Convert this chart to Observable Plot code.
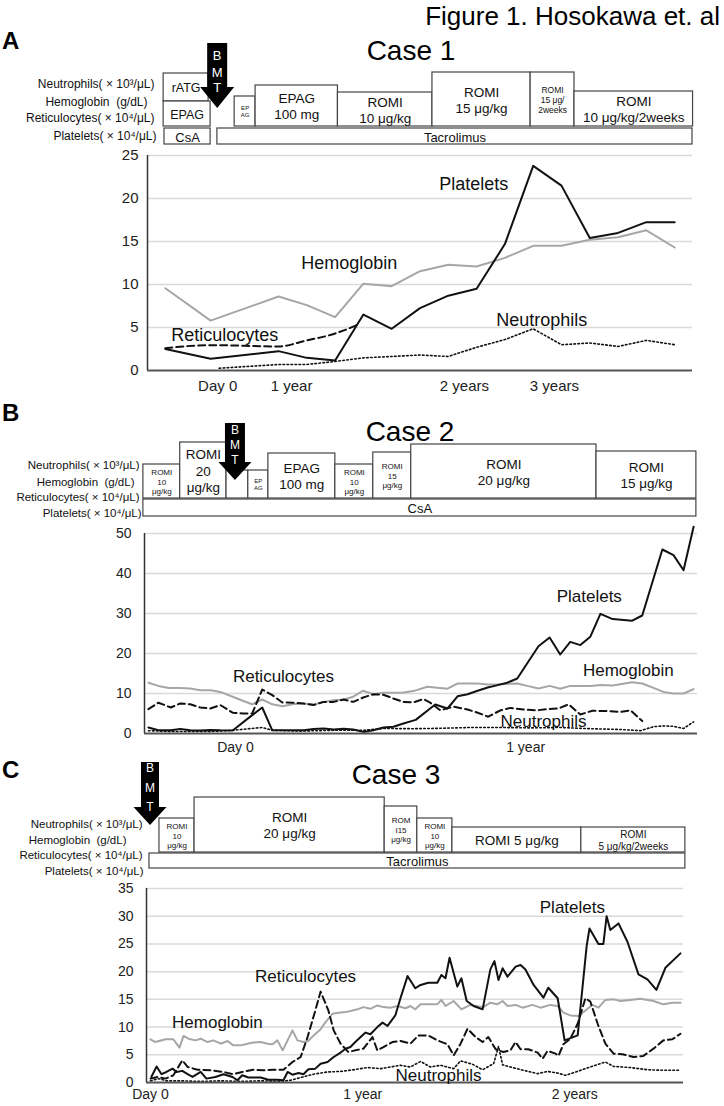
<!DOCTYPE html>
<html><head><meta charset="utf-8">
<script src="https://cdn.jsdelivr.net/npm/d3@7"></script>
<script src="https://cdn.jsdelivr.net/npm/@observablehq/plot@0.6"></script>
<style>
body{margin:0;background:#fff;font-family:"Liberation Sans",Arial,Helvetica,sans-serif;}
#fig{position:relative;width:724px;height:1106px;overflow:hidden;background:#fff;}
.t{position:absolute;white-space:nowrap;line-height:1;color:#000;}
</style></head><body><div id="fig"></div><script>
// ---------------- DATA ----------------
// Case 1 (x = visit index)
const c1Platelets = [[0,2.5],[1.6,1.36],[4,2.25],[5,1.47],[6,1.16],[7,6.5],[8,4.85],[9,7.25],[10,8.7],[11,9.5],[12,14.7],[13,23.8],[14,21.5],[15,15.4],[16,16.0],[17,17.25],[18,17.25]];
const c1Hemoglobin = [[0,9.57],[1.6,5.8],[4,8.6],[5,7.6],[6,6.2],[7,10.1],[8,9.8],[9,11.55],[10,12.3],[11,12.1],[12,13.1],[13,14.5],[14,14.5],[15,15.2],[16,15.5],[17,16.3],[18,14.3]];
const c1Reticulocytes = [[0,2.6],[1.6,2.95],[4,2.8],[5,3.5],[6,4.3],[6.85,5.4]];
const c1Neutrophils = [[1.9,0.27],[4,0.7],[5,0.7],[6,1.05],[7,1.47],[8,1.63],[9,1.8],[10,1.63],[11,2.7],[12,3.6],[13,4.85],[14,3.0],[15,3.2],[16,2.8],[17,3.5],[18,3.0]];
const c1TickAt = [1.85, 4.46, 10.57, 13.75];
const c1TickText = ["Day 0", "1 year", "2 years", "3 years"];
const c1YTicks = [0, 5, 10, 15, 20, 25];
const c1SeriesNames = ["Platelets", "Hemoglobin", "Neutrophils", "Reticulocytes"];
const c1SeriesLabelAt = [[10.9, 21.7], [6.5, 12.5], [13.3, 5.9], [2.1, 4.1]];
const c1Boxes = [[-0.06,1.53,45,73],[-0.06,1.6,20,45],[-0.03,1.6,2,18],[1.84,18.63,2,18],[2.45,3.19,20,50],[3.19,6.1,20,61],[6.1,9.44,20,54],[9.44,12.91,20,74],[12.91,14.46,20,74],[14.46,18.65,20,55]];
const c1BoxText = ["rATG","EPAG","CsA","Tacrolimus","EP\nAG","EPAG\n100 mg","ROMI\n10 μg/kg","ROMI\n15 μg/kg","ROMI\n15 μg/\n2weeks","ROMI\n10 μg/kg/2weeks"];
const c1Bmt = 1.85;

// Case 2 (x = weeks from BMT)
const c2Platelets = [[-15.6,1.5],[-13.8,0.8],[-11.6,0.8],[-9.9,1.1],[-8.1,0.8],[-6.3,0.75],[-4.5,0.9],[-2.7,0.8],[-0.5,0.75],[3.0,4.6],[4.8,6.5],[6.6,0.8],[8.4,0.8],[10.2,0.8],[12.2,0.8],[14.0,1.1],[15.8,1.25],[17.6,1.0],[19.4,1.2],[21.1,1.0],[22.9,0.4],[24.7,0.8],[26.5,1.5],[28.3,1.7],[30.1,2.5],[32.3,3.4],[35.8,7.25],[38.0,6.25],[39.8,9.3],[41.6,9.8],[43.4,10.7],[45.2,11.5],[47.0,12.1],[48.7,12.7],[50.5,13.75],[54.3,21.8],[56.3,24.0],[58.2,19.75],[60.0,22.9],[61.8,22.1],[63.6,24.2],[65.4,29.9],[67.6,28.6],[71.1,28.2],[72.9,29.5],[76.5,46.0],[78.5,44.6],[80.3,40.8],[82.1,51.7]];
const c2Hemoglobin = [[-15.6,12.7],[-13.8,11.9],[-12.0,11.4],[-9.9,11.4],[-8.1,11.25],[-6.3,10.8],[-4.5,10.8],[-2.7,10.4],[-0.5,9.2],[1.3,8.2],[3.0,7.3],[4.8,8.5],[6.6,7.3],[8.4,6.8],[10.2,7.3],[12.2,7.5],[14.0,7.25],[15.8,7.9],[17.6,8.3],[19.4,8.5],[21.1,9.2],[22.9,10.7],[24.7,9.8],[26.5,10.2],[28.3,10.2],[30.1,10.25],[31.9,10.6],[34.4,11.7],[38.0,11.2],[39.8,12.5],[43.4,12.5],[45.2,12.25],[47.0,12.3],[48.7,12.4],[50.5,12.5],[52.3,11.9],[54.3,11.25],[56.3,11.9],[58.2,11.2],[60.0,11.9],[63.6,11.9],[65.4,12.1],[67.6,12.0],[71.1,12.8],[72.9,12.5],[74.9,11.4],[76.7,10.4],[78.5,10.0],[80.3,10.0],[82.1,11.1]];
const c2Reticulocytes = [[-15.6,6.1],[-13.8,7.7],[-11.6,6.5],[-9.9,7.5],[-8.1,7.3],[-6.3,6.5],[-4.5,6.25],[-2.7,7.1],[-0.5,5.2],[1.3,5.0],[3.0,5.0],[4.8,11.0],[6.6,9.6],[8.4,7.75],[10.2,7.7],[12.2,7.5],[14.0,7.1],[15.8,7.9],[17.6,7.9],[19.4,8.5],[21.1,7.9],[22.9,9.0],[24.7,9.8],[26.5,9.7],[28.3,8.75],[30.1,7.9],[31.9,7.8],[33.7,8.6],[34.9,7.7],[36.7,5.8],[39.1,6.7],[41.6,6.0],[43.4,5.2],[45.3,4.2],[47.5,5.8],[49.3,6.4],[51.6,6.0],[54.1,5.8],[55.9,6.1],[57.9,6.25],[59.7,7.3],[61.8,4.75],[64.0,5.7],[66.7,5.6],[69.0,5.4],[70.8,5.8],[72.9,3.1]];
const c2Neutrophils = [[-15.6,0.7],[-11.6,0.5],[-8.1,0.5],[-4.5,0.5],[-0.5,0.8],[4.8,1.5],[6.6,0.8],[11.6,0.6],[17.6,0.8],[22.9,0.8],[26.5,1.25],[31.9,1.2],[36.7,1.3],[42.1,1.5],[47.5,1.5],[52.9,1.4],[58.2,1.5],[63.6,1.2],[69.0,1.0],[72.6,0.7],[74.9,1.7],[76.7,1.9],[78.5,1.8],[80.3,1.25],[82.1,2.9]];
const c2TickAt = [0, 52];
const c2TickText = ["Day 0", "1 year"];
const c2YTicks = [0, 10, 20, 30, 40, 50];
const c2SeriesNames = ["Platelets", "Hemoglobin", "Neutrophils", "Reticulocytes"];
const c2SeriesLabelAt = [[63.4, 34.2], [70.4, 15.8], [55.2, 3.1], [8.6, 14.3]];
const c2Boxes = [[-16.5,-9.9,20,54],[-9.9,-1.6,20,76],[-1.6,2.3,20,48],[2.3,5.9,20,48],[5.9,17.9,20,65],[17.9,24.7,20,54],[24.7,31.5,20,66],[31.5,64.7,20,74],[64.7,82.6,20,67],[-16.5,82.6,2,19]];
const c2BoxText = ["ROMI\n10\nμg/kg","ROMI\n20\nμg/kg","","EP\nAG","EPAG\n100 mg","ROMI\n10\nμg/kg","ROMI\n15\nμg/kg","ROMI\n20 μg/kg","ROMI\n15 μg/kg","CsA"];
const c2Bmt = 0;

// Case 3 (x = weeks from BMT)
const c3Platelets = [[0.2,1.0],[1.5,2.9],[2.7,1.5],[3.9,1.9],[5.4,2.5],[6.4,1.9],[7.8,2.1],[9.1,1.5],[10.3,1.0],[12.3,1.9],[13.7,0.7],[15.9,1.0],[17.9,1.5],[20.1,1.0],[21.3,0.4],[22.5,1.3],[24.0,0.9],[27.0,0.9],[28.9,0.5],[31.1,0.5],[32.6,0.4],[33.6,1.9],[34.8,1.4],[36.3,1.7],[37.5,1.5],[38.7,2.4],[40.4,2.5],[41.7,3.4],[43.4,3.7],[44.9,4.6],[46.6,5.4],[47.8,6.1],[49.0,6.4],[50.2,7.3],[51.5,8.2],[52.7,9.0],[53.9,8.7],[55.6,10.0],[56.9,10.8],[58.1,10.2],[60.0,12.1],[61.3,15.3],[63.0,19.2],[64.9,17.0],[66.2,17.6],[68.1,18.0],[70.3,18.0],[71.3,19.4],[72.3,18.8],[73.3,22.5],[75.2,17.3],[76.2,18.8],[77.5,14.7],[79.2,13.8],[81.4,13.2],[83.3,20.4],[84.3,21.9],[85.3,18.5],[86.3,20.6],[87.5,19.1],[89.5,20.9],[90.7,21.2],[91.9,20.4],[93.9,17.6],[96.3,15.3],[97.5,17.1],[99.8,15.2],[101.5,7.6],[104.7,8.5],[106.9,24.6],[107.6,27.8],[109.8,25.0],[111.0,25.0],[111.8,30.0],[112.7,27.5],[114.7,28.7],[116.9,25.4],[119.6,19.5],[121.8,18.6],[124.0,16.7],[126.2,20.7],[129.9,23.3]];
const c3Hemoglobin = [[0,7.8],[1.2,7.3],[3.7,7.8],[5.6,7.8],[7.1,6.3],[8.1,8.4],[9.3,7.9],[11.0,7.6],[12.3,7.9],[14.0,7.3],[15.4,7.6],[17.2,7.0],[18.9,7.5],[20.3,6.7],[22.1,6.7],[23.8,7.0],[25.2,7.2],[27.0,7.3],[28.7,7.0],[29.9,6.9],[31.1,7.6],[32.4,5.8],[34.8,9.4],[36.0,7.6],[37.5,7.3],[38.7,7.5],[40.0,8.5],[41.7,9.6],[42.9,10.9],[44.6,12.4],[46.1,12.6],[47.8,12.7],[49.5,13.0],[50.7,13.2],[52.2,13.6],[53.9,13.3],[55.6,13.9],[57.1,13.6],[58.8,13.5],[60.5,13.8],[62.5,13.4],[63.7,13.8],[64.9,13.2],[66.2,14.1],[68.6,14.1],[70.3,14.1],[71.3,14.9],[72.3,13.8],[74.3,14.7],[76.2,13.2],[78.4,14.0],[81.6,13.6],[83.3,14.4],[85.0,14.1],[86.3,14.7],[87.5,13.8],[89.5,14.0],[91.2,13.5],[93.6,14.0],[95.6,13.5],[98.0,14.0],[99.8,13.8],[101.2,12.6],[102.9,12.1],[104.9,12.0],[106.6,13.0],[108.3,14.0],[109.8,13.5],[111.5,14.9],[113.5,15.0],[115.2,14.7],[117.6,14.9],[120.1,15.1],[123.3,14.7],[125.7,14.1],[127.9,14.4],[129.9,14.4]];
const c3Reticulocytes = [[0,0.7],[1.7,1.0],[3.7,0.7],[5.6,1.3],[7.8,4.0],[9.1,2.8],[11.5,2.3],[14.7,2.2],[17.9,1.9],[20.1,1.5],[22.5,1.9],[25.2,2.3],[27.7,2.2],[30.1,2.3],[32.6,2.3],[34.8,3.7],[36.8,4.6],[38.5,8.2],[40.4,13.0],[41.7,16.4],[43.6,13.0],[44.9,9.4],[46.6,7.0],[48.5,5.5],[50.2,5.8],[52.2,6.1],[54.4,8.2],[55.6,5.8],[57.1,6.4],[59.3,7.3],[61.3,7.5],[63.7,7.0],[65.7,8.5],[68.1,8.5],[70.3,7.6],[72.8,6.9],[74.3,4.9],[76.0,7.0],[77.7,9.7],[79.7,8.2],[81.4,7.3],[82.8,8.2],[84.6,6.0],[86.5,5.5],[88.2,5.8],[89.5,7.3],[90.7,6.0],[92.6,6.0],[94.9,5.4],[96.1,4.3],[97.3,5.7],[99.3,5.2],[100.0,4.8],[101.2,6.9],[102.9,7.9],[104.7,10.6],[106.6,15.2],[107.8,14.6],[109.6,10.6],[111.5,7.0],[113.5,5.2],[115.7,5.1],[118.4,4.6],[120.8,4.8],[123.3,6.1],[125.7,7.6],[127.9,7.8],[129.9,8.8]];
const c3Neutrophils = [[0,0.3],[2.0,0.7],[3.9,0.3],[7.4,0.3],[12.3,0.2],[17.2,0.3],[22.1,0.2],[27.0,0.3],[31.9,0.2],[34.3,0.4],[36.8,0.9],[40.0,1.5],[43.4,1.9],[46.6,2.0],[49.8,2.3],[53.2,2.7],[56.4,2.5],[59.6,2.9],[61.3,3.1],[63.7,2.8],[66.2,3.8],[68.6,2.8],[71.1,3.1],[74.3,2.5],[76.0,3.9],[78.9,3.3],[81.4,2.3],[84.1,3.4],[85.3,6.5],[86.3,3.2],[88.7,2.7],[91.4,2.2],[94.9,1.6],[97.3,2.0],[99.8,1.7],[101.7,1.3],[104.2,1.9],[107.4,2.7],[111.5,3.7],[113.5,2.9],[117.6,2.7],[121.8,2.3],[125.7,2.2],[129.9,2.2]];
const c3TickAt = [0, 52, 104];
const c3TickText = ["Day 0", "1 year", "2 years"];
const c3YTicks = [0, 5, 10, 15, 20, 25, 30, 35];
const c3SeriesNames = ["Platelets", "Hemoglobin", "Neutrophils", "Reticulocytes"];
const c3SeriesLabelAt = [[103.4, 31.6], [16.4, 10.8], [70.6, 1.2], [38.0, 19.2]];
const c3Boxes = [[2.2,10.8,28,62],[10.8,57.4,28,83],[57.4,65.4,28,74],[65.4,74.0,28,62],[74.0,105.6,28,53],[105.6,131.1,28,53],[-0.25,131.1,12,27]];
const c3BoxText = ["ROMI\n10\nμg/kg","ROMI\n20 μg/kg","ROM\nI15\nμg/kg","ROMI\n10\nμg/kg","ROMI 5 μg/kg","ROMI\n5 μg/kg/2weeks","Tacrolimus"];
const c3Bmt = 0;

const rowNames = ["Neutrophils( × 10³/μL)", "Hemoglobin  (g/dL)", "Reticulocytes( × 10⁴/μL)", "Platelets( × 10⁴/μL)"];

// ---------------- STYLE / LAYOUT ----------------
const FONT = '"Liberation Sans", Arial, Helvetica, sans-serif';
const layout = {
  c1: {chartTop: 140, chartH: 265, mt: 15, mb: 35, ml: 147, mr: 32, xDomain: [-0.63, 18.63], xPad: 10, yPad: 9, tickFs: 15, labelFs: 18,
       headTop: 40, headH: 106, rowY: [62, 44, 28, 10], rowDx: [7, 0, 7, 9], rowFs: 12,
       boxFs: [12.5, 12.5, 13, 13, 6, 13.5, 13.5, 13.5, 8.5, 13.5],
       arrow: {top: 103, shoulder: 59, tip: 38, rectW: 20, headW: 34, letters: [91, 74, 59], fs: 13}, retCurve: "monotone-x"},
  c2: {chartTop: 520, chartH: 250, mt: 13, mb: 37, ml: 144, mr: 27, xDomain: [-16.3, 82.8], xPad: 9, yPad: 13, tickFs: 14, labelFs: 17,
       headTop: 420, headH: 98, rowY: [53, 36, 21, 5], rowDx: [-5, -10, -5, -3], rowFs: 11.5,
       boxFs: [8, 13.5, 8, 6, 13.5, 8, 8, 13.5, 13.5, 13],
       arrow: {top: 95, shoulder: 56, tip: 38, rectW: 20, headW: 33, letters: [88, 73, 58], fs: 12}, retCurve: "linear"},
  c3: {chartTop: 876, chartH: 230, mt: 12, mb: 24, ml: 146, mr: 41, xDomain: [-0.98, 130.64], xPad: 7, yPad: 13, tickFs: 14, labelFs: 17,
       headTop: 760, headH: 120, rowY: [56, 40, 25, 9], rowDx: [-4, -20, -4, -3], rowFs: 11.5,
       boxFs: [8, 13.5, 8, 8, 13.5, 10, 13],
       arrow: {top: 118, shoulder: 73, tip: 55, rectW: 18, headW: 33, letters: [112, 92, 73], fs: 12}, retCurve: "linear"}
};

const fig = document.getElementById("fig");
function place(node, top) {
  node.style.position = "absolute"; node.style.left = "0px"; node.style.top = top + "px";
  fig.appendChild(node);
}
function addText(txt, css) {
  const d = document.createElement("div"); d.className = "t"; d.textContent = txt;
  Object.assign(d.style, css); fig.appendChild(d); return d;
}

function chart(s, L) {
  const tickMap = new Map(s.tickAt.map((t, i) => [t, s.tickText[i]]));
  const px = d => d[0], py = d => d[1];
  const labels = s.names.map((n, i) => ({n, x: s.labelAt[i][0], y: s.labelAt[i][1]}));
  return Plot.plot({
    width: 724, height: L.chartH,
    marginLeft: L.ml, marginRight: L.mr, marginTop: L.mt, marginBottom: L.mb,
    style: {background: "transparent", fontFamily: FONT, fontSize: L.tickFs + "px", color: "#222", overflow: "visible"},
    x: {type: "linear", domain: L.xDomain, ticks: s.tickAt, tickFormat: d => tickMap.get(d), tickSize: 0, tickPadding: L.xPad, label: null},
    y: {domain: [0, s.yTicks[s.yTicks.length - 1]], ticks: s.yTicks, tickSize: 0, tickPadding: L.yPad, label: null},
    marks: [
      Plot.ruleY(s.yTicks.filter(t => t > 0), {stroke: "#d9d9d9", strokeWidth: 1.5}),
      Plot.line(s.hemoglobin, {x: px, y: py, stroke: "#a6a6a6", strokeWidth: 2}),
      Plot.line(s.neutrophils, {x: px, y: py, stroke: "#111", strokeWidth: 1.6, strokeDasharray: "1.6,2.4"}),
      Plot.line(s.reticulocytes, {x: px, y: py, stroke: "#111", strokeWidth: 2, strokeDasharray: "7,4", curve: L.retCurve}),
      Plot.line(s.platelets, {x: px, y: py, stroke: "#111", strokeWidth: 2}),
      Plot.ruleX([L.xDomain[0]], {stroke: "#333", strokeWidth: 1.5}),
      Plot.ruleY([0], {stroke: "#555", strokeWidth: 2}),
      Plot.text(labels, {x: "x", y: "y", text: "n", fontSize: L.labelFs, fill: "#111"})
    ]
  });
}

function header(s, L) {
  const marks = [];
  marks.push(Plot.rect(s.boxes, {x1: d => d[0], x2: d => d[1], y1: d => d[2], y2: d => d[3], fill: "white", stroke: "#444", strokeWidth: 1.2}));
  s.boxes.forEach((b, i) => {
    if (!s.boxText[i]) return;
    marks.push(Plot.text([b], {x: d => (d[0] + d[1]) / 2, y: d => (d[2] + d[3]) / 2, text: () => s.boxText[i], fontSize: L.boxFs[i], lineHeight: 1.2, fill: "#111"}));
  });
  rowNames.forEach((r, i) => {
    marks.push(Plot.text([r], {frameAnchor: "left", y: () => L.rowY[i], text: d => d, textAnchor: "end", dx: L.rowDx[i], fontSize: L.rowFs, fill: "#111"}));
  });
  const A = L.arrow;
  marks.push((index, scales) => {
    const x = scales.x(s.bmt), yt = scales.y(A.top), ys = scales.y(A.shoulder), yp = scales.y(A.tip);
    const g = d3.create("svg:g");
    g.append("path")
      .attr("d", `M${x - A.rectW / 2},${yt}V${ys}H${x - A.headW / 2}L${x},${yp}L${x + A.headW / 2},${ys}H${x + A.rectW / 2}V${yt}Z`)
      .attr("fill", "#000");
    ["B", "M", "T"].forEach((ch, i) => {
      g.append("text").attr("x", x).attr("y", scales.y(A.letters[i])).attr("text-anchor", "middle")
        .attr("dy", "0.35em").attr("fill", "#fff").attr("font-size", A.fs).attr("font-family", FONT).text(ch);
    });
    return g.node();
  });
  return Plot.plot({
    width: 724, height: L.headH,
    marginLeft: L.ml, marginRight: L.mr, marginTop: 0, marginBottom: 0,
    style: {background: "transparent", fontFamily: FONT, overflow: "visible"},
    x: {type: "linear", domain: L.xDomain, axis: null},
    y: {domain: [0, L.headH], axis: null},
    marks
  });
}

const cases = [
  {L: layout.c1, s: {platelets: c1Platelets, hemoglobin: c1Hemoglobin, reticulocytes: c1Reticulocytes, neutrophils: c1Neutrophils, tickAt: c1TickAt, tickText: c1TickText, yTicks: c1YTicks, names: c1SeriesNames, labelAt: c1SeriesLabelAt, boxes: c1Boxes, boxText: c1BoxText, bmt: c1Bmt}},
  {L: layout.c2, s: {platelets: c2Platelets, hemoglobin: c2Hemoglobin, reticulocytes: c2Reticulocytes, neutrophils: c2Neutrophils, tickAt: c2TickAt, tickText: c2TickText, yTicks: c2YTicks, names: c2SeriesNames, labelAt: c2SeriesLabelAt, boxes: c2Boxes, boxText: c2BoxText, bmt: c2Bmt}},
  {L: layout.c3, s: {platelets: c3Platelets, hemoglobin: c3Hemoglobin, reticulocytes: c3Reticulocytes, neutrophils: c3Neutrophils, tickAt: c3TickAt, tickText: c3TickText, yTicks: c3YTicks, names: c3SeriesNames, labelAt: c3SeriesLabelAt, boxes: c3Boxes, boxText: c3BoxText, bmt: c3Bmt}}
];

cases.forEach(({L, s}) => {
  place(chart(s, L), L.chartTop);
  place(header(s, L), L.headTop);
});

// Titles
addText("Figure 1. Hosokawa et. al", {right: "4px", top: "3px", fontSize: "26px", fontFamily: FONT});
const panels = [["A", 29, "Case 1", 411, 37], ["B", 401, "Case 2", 410, 418], ["C", 758, "Case 3", 396, 761]];
panels.forEach(([letter, ly, title, cx, ty]) => {
  addText(letter, {left: "2px", top: ly + "px", fontSize: "24px", fontWeight: "bold", fontFamily: FONT});
  addText(title, {left: cx + "px", top: ty + "px", fontSize: "28px", fontFamily: FONT, transform: "translateX(-50%)"});
});
</script></body></html>
